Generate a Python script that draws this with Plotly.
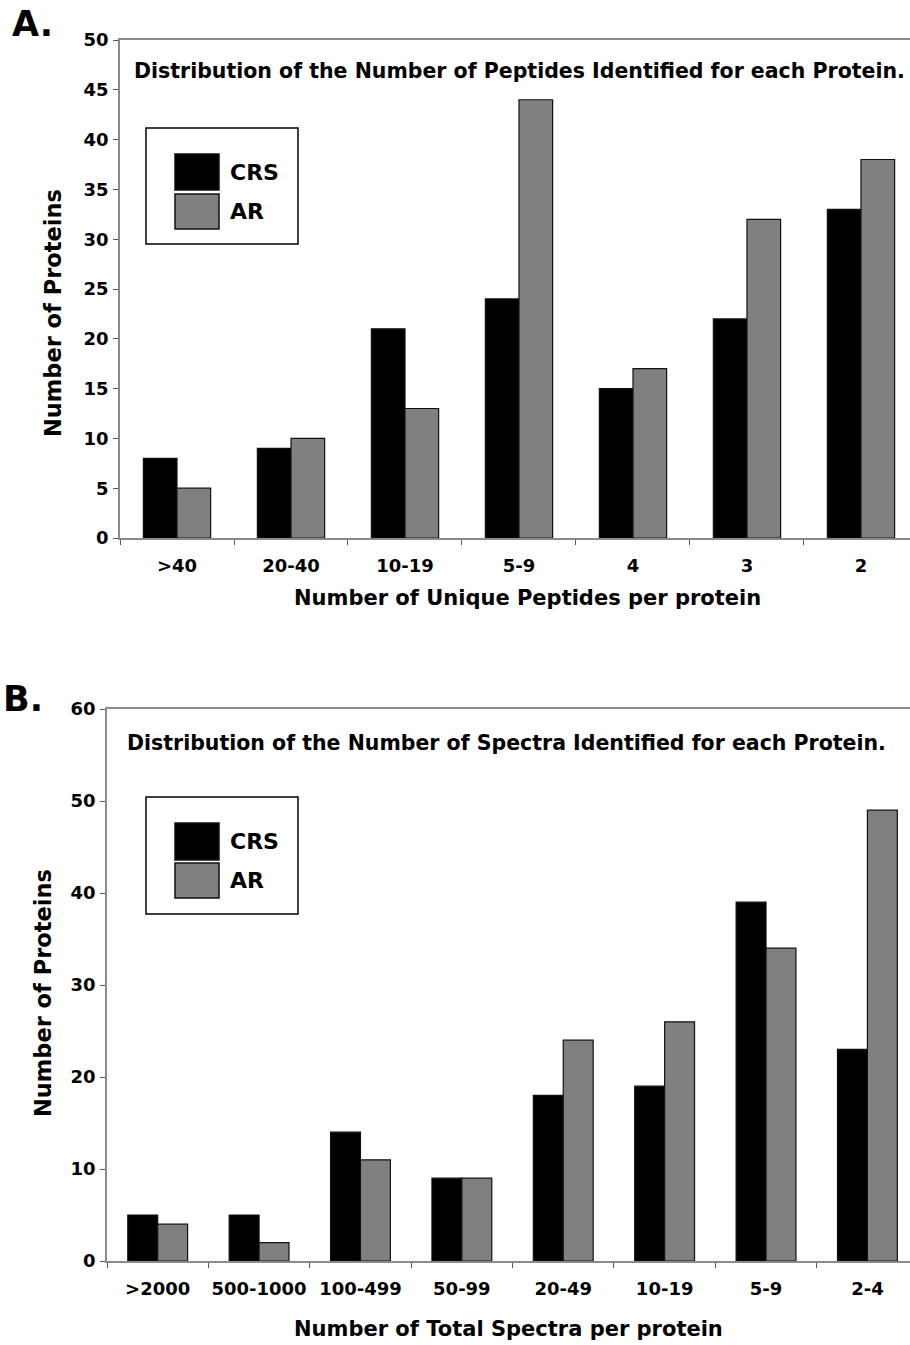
import plotly.graph_objects as go

# ---------------- data ----------------
cats_a = [">40", "20-40", "10-19", "5-9", "4", "3", "2"]
crs_a = [8, 9, 21, 24, 15, 22, 33]
ar_a = [5, 10, 13, 44, 17, 32, 38]

cats_b = [">2000", "500-1000", "100-499", "50-99", "20-49", "10-19", "5-9", "2-4"]
crs_b = [5, 5, 14, 9, 18, 19, 39, 23]
ar_b = [4, 2, 11, 9, 24, 26, 34, 49]

series_names = ["CRS", "AR"]
series_colors = ["#000000", "#808080"]

W, H = 910, 1345
FONT = "DejaVu Sans, Liberation Sans, sans-serif"


def px(x):
    return x / W


def py(y):
    return 1 - y / H


fig = go.Figure()

for cats, vals_list, xa, ya in [
    (cats_a, [crs_a, ar_a], "x", "y"),
    (cats_b, [crs_b, ar_b], "x2", "y2"),
]:
    for name, col, vals in zip(series_names, series_colors, vals_list):
        fig.add_trace(go.Bar(
            x=cats, y=vals, name=name, xaxis=xa, yaxis=ya,
            marker=dict(color=col, line=dict(color="#111111", width=1.2)),
            showlegend=False,
        ))

axis_line = "#8a8a8a"
tickfont = dict(family=FONT, size=18, color="black", weight="bold")

common_x = dict(
    type="category", showline=True, linecolor=axis_line, linewidth=1.5,
    mirror=True, ticks="outside", tickson="boundaries", ticklen=5,
    tickcolor="#555555", tickfont=tickfont, showgrid=False, zeroline=False,
    fixedrange=True, automargin=False, tickangle=0, ticklabelstandoff=11,
)
common_y = dict(
    showline=True, linecolor=axis_line, linewidth=1.5, ticks="outside",
    ticklen=5, tickcolor="#555555", tickfont=tickfont, showgrid=False,
    zeroline=False, ticklabelstandoff=1, automargin=False, fixedrange=True,
)

fig.update_layout(
    template="none",
    width=W, height=H,
    autosize=False,
    margin=dict(l=0, r=0, t=0, b=0, pad=0),
    paper_bgcolor="white", plot_bgcolor="white",
    barmode="group", bargap=0.41, bargroupgap=0,
    showlegend=False,
    font=dict(family=FONT, color="black"),
    xaxis=dict(common_x, domain=[px(120), 1.0], range=[-0.5, 6.43], anchor="y"),
    yaxis=dict(common_y, domain=[py(538), py(40)], range=[0, 50], dtick=5, anchor="x"),
    xaxis2=dict(common_x, domain=[px(107), 1.0], range=[-0.5, 7.42], anchor="y2"),
    yaxis2=dict(common_y, domain=[py(1261), py(709)], range=[0, 60], dtick=10, anchor="x2"),
)

ann = []
shapes = []


def text(x, y, s, size, xanchor="center", angle=0):
    ann.append(dict(
        x=px(x), y=py(y), xref="paper", yref="paper", text=s, showarrow=False,
        xanchor=xanchor, yanchor="middle", textangle=angle,
        font=dict(family=FONT, size=size, color="black", weight="bold"),
    ))


# panel labels
text(10, 24, "A.", 35, xanchor="left")
text(1, 699, "B.", 35, xanchor="left")

# titles inside plots
text(519, 71, "Distribution of the Number of Peptides Identified for each Protein.", 20.5)
text(506, 743, "Distribution of the Number of Spectra Identified for each Protein.", 20.5)

# axis titles
text(527, 598, "Number of Unique Peptides per protein", 21)
text(508, 1329, "Number of Total Spectra per protein", 21)
text(53, 313, "Number of Proteins", 22.5, angle=-90)
text(43, 993, "Number of Proteins", 22.5, angle=-90)

# legends (drawn boxes)
for (bx0, by0, bx1, by1, s1, s2) in [
    (146, 128, 298, 244, (154, 190), (194, 229)),
    (146, 797, 298, 914, (823, 860), (863, 898)),
]:
    shapes.append(dict(type="rect", xref="paper", yref="paper",
                       x0=px(bx0), x1=px(bx1), y0=py(by1), y1=py(by0),
                       line=dict(color="black", width=1.5), fillcolor="white"))
    for (sy0, sy1), col, name in zip([s1, s2], series_colors, series_names):
        shapes.append(dict(type="rect", xref="paper", yref="paper",
                           x0=px(175), x1=px(219), y0=py(sy1), y1=py(sy0),
                           line=dict(color="#111111", width=1.5), fillcolor=col))
        text(228, (sy0 + sy1) / 2, name, 22, xanchor="left")

fig.update_layout(annotations=ann, shapes=shapes)

fig.write_html(
    "out.html",
    config={"displayModeBar": False},
    post_script="document.body.style.margin='0';document.body.style.overflow='hidden';",
)
